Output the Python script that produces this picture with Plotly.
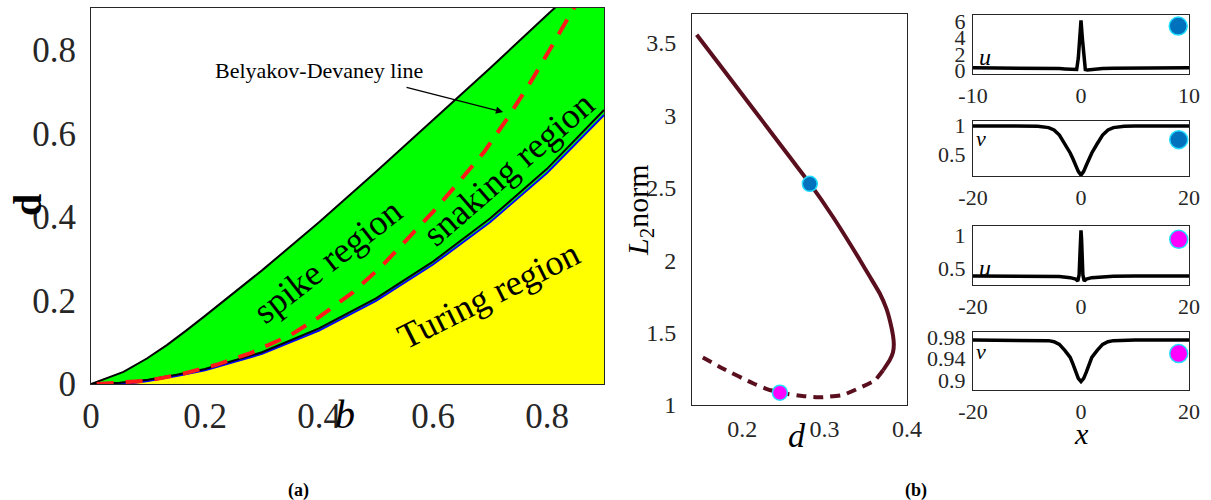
import plotly.graph_objects as go

SERIF = "Liberation Serif"
AX = "#262626"

# ---------------- panel (a): regions in the (b, d) plane ----------------
b_upper = [0, 0.057, 0.098, 0.133, 0.168, 0.2, 0.3, 0.4, 0.5, 0.6, 0.7, 0.8, 0.9]
d_upper = [0, 0.029, 0.061, 0.093, 0.129, 0.163, 0.272, 0.387, 0.508, 0.632, 0.756, 0.883, 1.01]

b_lower = [0, 0.05, 0.1, 0.15, 0.2, 0.3, 0.4, 0.5, 0.6, 0.7, 0.8, 0.9]
d_lower = [0, 0.003, 0.01, 0.022, 0.036, 0.076, 0.133, 0.205, 0.293, 0.396, 0.515, 0.656]

b_turing = [0, 0.06, 0.1, 0.15, 0.2, 0.3, 0.4, 0.5, 0.6, 0.7, 0.8, 0.9]
d_turing = [0, 0.0, 0.007, 0.019, 0.033, 0.072, 0.128, 0.199, 0.286, 0.387, 0.505, 0.644]

# Belyakov-Devaney line
b_bd = [0.01, 0.1, 0.16, 0.22, 0.28, 0.35, 0.4, 0.46, 0.51, 0.555, 0.6, 0.645,
        0.69, 0.73, 0.77, 0.806, 0.84, 0.86]
d_bd = [0.0, 0.008, 0.024, 0.046, 0.074, 0.117, 0.16, 0.22, 0.282, 0.347, 0.412, 0.483,
        0.556, 0.635, 0.72, 0.803, 0.884, 0.93]

a_ticks = [0, 0.2, 0.4, 0.6, 0.8]
a_ticktext = ["0", "0.2", "0.4", "0.6", "0.8"]

# ---------------- panel (b): bifurcation branch ----------------
d_stable = [0.1447, 0.17, 0.2, 0.23, 0.26, 0.282, 0.31, 0.343, 0.355, 0.367, 0.375,
            0.380, 0.383, 0.384, 0.383, 0.379, 0.371]
L2_stable = [3.557, 3.368, 3.144, 2.92, 2.695, 2.53, 2.30, 2.0, 1.885, 1.77, 1.665,
             1.565, 1.48, 1.42, 1.365, 1.31, 1.24]
d_unstable = [0.371, 0.361, 0.342, 0.322, 0.296, 0.273, 0.2457, 0.23, 0.213, 0.177, 0.147]
L2_unstable = [1.24, 1.17, 1.117, 1.069, 1.053, 1.062, 1.085, 1.11, 1.15, 1.25, 1.345]

d_pt_blue, L2_pt_blue = 0.282, 2.527
d_pt_mag, L2_pt_mag = 0.2457, 1.085

b_xticks = [0.2, 0.3, 0.4]
b_yticks = [1, 1.5, 2, 2.5, 3, 3.5]
b_yticktext = ["1", "1.5", "2", "2.5", "3", "3.5"]

# ---------------- profiles for the two marked solutions ----------------
x_u1 = [-10, -8, -6, -4, -3, -2, -1.5, -1, -0.6, -0.4, -0.25, -0.12, 0,
        0.12, 0.25, 0.4, 0.6, 1, 1.5, 2, 3, 4, 6, 8, 10]
u1 = [0.32, 0.31, 0.30, 0.28, 0.26, 0.21, 0.17, 0.11, 0.04, 0.1, 1.5, 4.0, 6.1,
      4.0, 1.5, 0.1, 0.04, 0.11, 0.17, 0.21, 0.26, 0.28, 0.30, 0.31, 0.32]

x_v1 = [-20, -10, -8, -6, -5, -4, -3, -2, -1.5, -1, -0.5, 0,
        0.5, 1, 1.5, 2, 3, 4, 5, 6, 8, 10, 20]
v1 = [0.99, 0.99, 0.985, 0.96, 0.92, 0.83, 0.68, 0.52, 0.42, 0.31, 0.2, 0.135,
      0.2, 0.31, 0.42, 0.52, 0.68, 0.83, 0.92, 0.96, 0.985, 0.99, 0.99]

x_u2 = [-20, -10, -6, -4, -2, -1, -0.6, -0.35, -0.2, -0.1, 0,
        0.1, 0.2, 0.35, 0.6, 1, 2, 4, 6, 10, 20]
u2 = [0.385, 0.385, 0.383, 0.378, 0.36, 0.34, 0.31, 0.4, 0.7, 0.95, 1.07,
      0.95, 0.7, 0.4, 0.31, 0.34, 0.36, 0.378, 0.383, 0.385, 0.385]

x_v2 = [-20, -10, -6, -5, -4, -3, -2, -1.5, -1, -0.5, 0,
        0.5, 1, 1.5, 2, 3, 4, 5, 6, 10, 20]
v2 = [0.974, 0.974, 0.973, 0.971, 0.966, 0.955, 0.942, 0.93, 0.915, 0.903, 0.897,
      0.903, 0.915, 0.93, 0.942, 0.955, 0.966, 0.971, 0.973, 0.974, 0.974]

W, H = 1211, 500


def px_dom(p0, p1):
    return [p0 / W, p1 / W]


def py_dom(top, bottom):
    return [1 - bottom / H, 1 - top / H]


fig = go.Figure()

# --- (a) filled regions ---
fig.add_trace(go.Scatter(x=b_turing, y=d_turing, mode="lines", fill="tozeroy",
                         fillcolor="#ffff00", line=dict(width=0), hoverinfo="skip",
                         xaxis="x", yaxis="y"))
fig.add_trace(go.Scatter(x=b_upper, y=d_upper, mode="lines", fill="tonexty",
                         fillcolor="#00ff00", line=dict(width=0), hoverinfo="skip",
                         xaxis="x", yaxis="y"))
# --- (a) boundary curves ---
fig.add_trace(go.Scatter(x=b_turing, y=d_turing, mode="lines",
                         line=dict(color="#0000ff", width=2), xaxis="x", yaxis="y"))
fig.add_trace(go.Scatter(x=b_lower, y=d_lower, mode="lines",
                         line=dict(color="#000000", width=2), xaxis="x", yaxis="y"))
fig.add_trace(go.Scatter(x=b_upper, y=d_upper, mode="lines",
                         line=dict(color="#000000", width=2), xaxis="x", yaxis="y"))
fig.add_trace(go.Scatter(x=b_bd, y=d_bd, mode="lines",
                         line=dict(color="#ff1a1a", width=4, dash="17px,12px"),
                         xaxis="x", yaxis="y"))

# --- (b) branch ---
BR = "#5a0f1e"
fig.add_trace(go.Scatter(x=d_stable, y=L2_stable, mode="lines",
                         line=dict(color=BR, width=4, shape="spline", smoothing=0.4),
                         xaxis="x2", yaxis="y2"))
fig.add_trace(go.Scatter(x=d_unstable, y=L2_unstable, mode="lines",
                         line=dict(color=BR, width=4, dash="10px,7px", shape="spline",
                                   smoothing=0.4),
                         xaxis="x2", yaxis="y2"))
fig.add_trace(go.Scatter(x=[d_pt_blue], y=[L2_pt_blue], mode="markers",
                         marker=dict(color="#0072bd", size=15,
                                     line=dict(color="#22ddff", width=1.5)),
                         xaxis="x2", yaxis="y2"))
fig.add_trace(go.Scatter(x=[d_pt_mag], y=[L2_pt_mag], mode="markers",
                         marker=dict(color="#ff00ff", size=15,
                                     line=dict(color="#22ddff", width=1.5)),
                         xaxis="x2", yaxis="y2"))

# --- profile panels ---
profiles = [
    (x_u1, u1, "x3", "y3", "#0072bd", 9.0, 5.4),
    (x_v1, v1, "x4", "y4", "#0072bd", 18.1, 0.75),
    (x_u2, u2, "x5", "y5", "#ff00ff", 18.1, 0.935),
    (x_v2, v2, "x6", "y6", "#ff00ff", 18.1, 0.949),
]
for xs, ys, xa, ya, mc, mx, my in profiles:
    fig.add_trace(go.Scatter(x=xs, y=ys, mode="lines", line=dict(color="black", width=3.5),
                             xaxis=xa, yaxis=ya))
    fig.add_trace(go.Scatter(x=[mx], y=[my], mode="markers",
                             marker=dict(color=mc, size=18, line=dict(color="#22ddff", width=1.5)),
                             xaxis=xa, yaxis=ya))


def axis(dom, rng, tickvals, ticktext, size, standoff, anchor):
    return dict(domain=dom, range=rng, tickvals=tickvals, ticktext=ticktext,
                showgrid=False, zeroline=False, showline=True, mirror=True,
                linecolor=AX, linewidth=1, ticks="", anchor=anchor, automargin=False,
                tickfont=dict(family=SERIF, size=size, color=AX),
                ticklabelstandoff=standoff)


xa_dom = px_dom(91, 604)
ya_dom = py_dom(8, 384)
xb_dom = px_dom(692, 907)
yb_dom = py_dom(14, 405)
xr_dom = px_dom(973, 1189)

layout = dict(
    width=W, height=H, margin=dict(l=0, r=0, t=0, b=0, pad=0, autoexpand=False),
    paper_bgcolor="white", plot_bgcolor="white", showlegend=False,
    xaxis=axis(xa_dom, [0, 0.9], a_ticks, a_ticktext, 35, 1, "y"),
    yaxis=axis(ya_dom, [0, 0.9], a_ticks, a_ticktext, 35, 7, "x"),
    xaxis2=axis(xb_dom, [0.139, 0.4], b_xticks, ["0.2", "0.3", "0.4"], 24, 2, "y2"),
    yaxis2=axis(yb_dom, [1, 3.7], b_yticks, b_yticktext, 24, 10, "x2"),
    xaxis3=axis(xr_dom, [-10, 10], [-10, 0, 10], ["-10", "0", "10"], 22, 2, "y3"),
    yaxis3=axis(py_dom(15, 74), [-0.45, 6.75], [0, 2, 4, 6], ["0", "2", "4", "6"], 22, 2, "x3"),
    xaxis4=axis(xr_dom, [-20, 20], [-20, 0, 20], ["-20", "0", "20"], 22, 2, "y4"),
    yaxis4=axis(py_dom(121, 176), [0.12, 1.075], [0.5, 1], ["0.5", "1"], 22, 2, "x4"),
    xaxis5=axis(xr_dom, [-20, 20], [-20, 0, 20], ["-20", "0", "20"], 22, 2, "y5"),
    yaxis5=axis(py_dom(226, 285), [0.25, 1.135], [0.5, 1], ["0.5", "1"], 22, 2, "x5"),
    xaxis6=axis(xr_dom, [-20, 20], [-20, 0, 20], ["-20", "0", "20"], 22, 2, "y6"),
    yaxis6=axis(py_dom(332, 390), [0.8815, 0.989], [0.9, 0.94, 0.98],
                ["0.9", "0.94", "0.98"], 22, 2, "x6"),
)
fig.update_layout(**layout)

ann = []


def txt(text, x, y, size, xref="x", yref="y", angle=0, **kw):
    ann.append(dict(text=text, x=x, y=y, xref=xref, yref=yref, showarrow=False,
                    textangle=angle, font=dict(family=SERIF, size=size, color="black"),
                    xanchor="center", yanchor="middle", **kw))


# region labels in (a)
txt("spike region", 0.415, 0.295, 36, angle=-38)
txt("snaking region", 0.732, 0.515, 36, angle=-41)
txt("Turing region", 0.698, 0.212, 36, angle=-26.5)
txt("Belyakov-Devaney line", 0.40, 0.751, 22)
ann.append(dict(x=0.723, y=0.651, ax=0.551, ay=0.711, xref="x", yref="y",
                axref="x", ayref="y", text="", showarrow=True, arrowhead=2,
                arrowsize=1.2, arrowwidth=1.2, arrowcolor="black"))

# axis titles
txt("<b>d</b>", 28 / W, 1 - 205 / H, 40, xref="paper", yref="paper", angle=-90)
txt("<i>b</i>", 345 / W, 1 - 414 / H, 40, xref="paper", yref="paper")
txt("<i>L</i><sub>2</sub>norm", 640 / W, 1 - 210 / H, 30, xref="paper", yref="paper", angle=-90)
txt("<i>d</i>", 797 / W, 1 - 435 / H, 34, xref="paper", yref="paper")
txt("<i>x</i>", 1081 / W, 1 - 433 / H, 30, xref="paper", yref="paper")

# variable names inside the profile panels
txt("<i>u</i>", -8.9, 1.6, 24, xref="x3", yref="y3")
txt("<i>v</i>", -18.5, 0.77, 22, xref="x4", yref="y4")
txt("<i>u</i>", -17.8, 0.5, 24, xref="x5", yref="y5")
txt("<i>v</i>", -18.5, 0.953, 22, xref="x6", yref="y6")

# panel tags
txt("<b>(a)</b>", 298 / W, 1 - 490 / H, 18, xref="paper", yref="paper")
txt("<b>(b)</b>", 916 / W, 1 - 490 / H, 18, xref="paper", yref="paper")

fig.update_layout(annotations=ann)
fig.write_html("out.html")
